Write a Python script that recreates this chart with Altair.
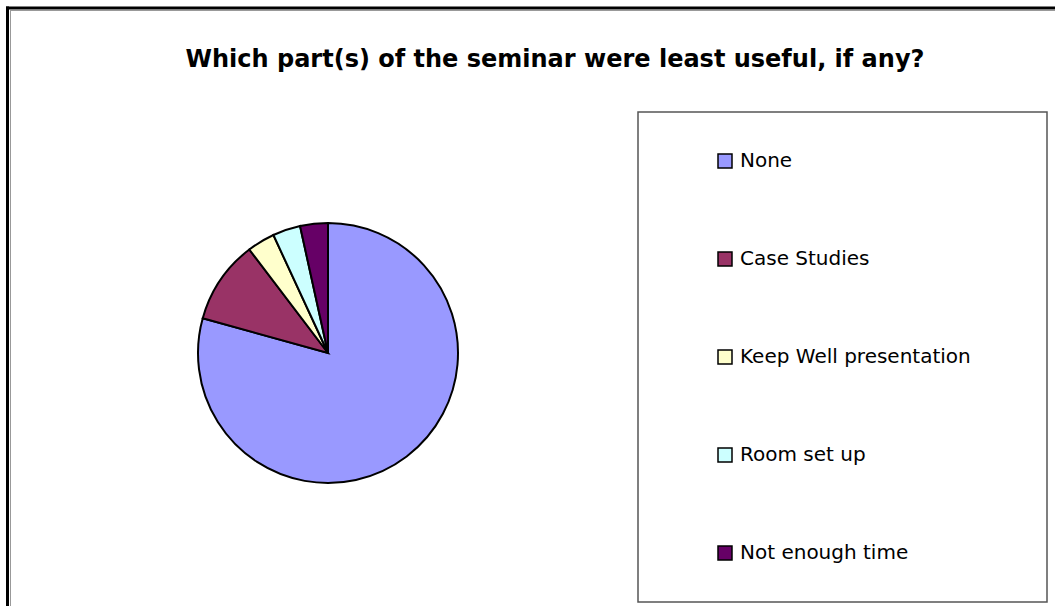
import altair as alt
import pandas as pd

# ---- data ----
categories = ["None", "Case Studies", "Keep Well presentation", "Room set up", "Not enough time"]
counts = [23, 3, 1, 1, 1]
colors = ["#9999FF", "#993366", "#FFFFCC", "#CCFFFF", "#660066"]
title_text = "Which part(s) of the seminar were least useful, if any?"

FONT = "DejaVu Sans"

df = pd.DataFrame({"category": categories, "count": counts, "order": list(range(len(categories)))})
one = pd.DataFrame({"a": [0]})

pie = alt.Chart(df).mark_arc(
    radius=130, stroke="black", strokeWidth=2
).encode(
    theta=alt.Theta("count:Q", stack=True),
    order=alt.Order("order:Q"),
    color=alt.Color(
        "category:N",
        scale=alt.Scale(domain=categories, range=colors),
        sort=categories,
        legend=alt.Legend(
            orient="none", legendX=715, legendY=151, title=None,
            symbolType="square", symbolSize=196, symbolStrokeColor="black",
            symbolStrokeWidth=1.5, symbolOpacity=1,
            labelFontSize=20, labelFont=FONT, labelColor="black",
            labelOffset=5, rowPadding=78, padding=0, direction="vertical",
            labelLimit=400,
        ),
    ),
    x=alt.value(328),
    y=alt.value(353),
)

title = alt.Chart(one).mark_text(
    text=title_text, font=FONT, fontSize=24, fontWeight="bold", color="black",
    align="center", baseline="middle"
).encode(x=alt.value(555), y=alt.value(60))

legend_box = alt.Chart(one).mark_rect(
    fill="white", fillOpacity=0, stroke="#555555", strokeWidth=1.5
).encode(x=alt.value(638), x2=alt.value(1047), y=alt.value(112), y2=alt.value(602))

frame_top = alt.Chart(one).mark_rule(color="black", strokeWidth=3).encode(
    x=alt.value(6), x2=alt.value(1055), y=alt.value(8))
frame_left = alt.Chart(one).mark_rule(color="black", strokeWidth=3).encode(
    x=alt.value(7.5), y=alt.value(6.5), y2=alt.value(606))
inner_top = alt.Chart(one).mark_rule(color="#999999", strokeWidth=1).encode(
    x=alt.value(10), x2=alt.value(1055), y=alt.value(10.5))
inner_left = alt.Chart(one).mark_rule(color="#999999", strokeWidth=1).encode(
    x=alt.value(10.5), y=alt.value(10), y2=alt.value(606))

chart = alt.layer(
    legend_box, pie, title, frame_top, frame_left, inner_top, inner_left
).properties(
    width=1055, height=606,
    autosize=alt.AutoSizeParams(type="none"),
    padding=0,
    background="white",
).configure_view(stroke=None)

chart.save("out.html", embed_options={"renderer": "svg", "actions": False})
